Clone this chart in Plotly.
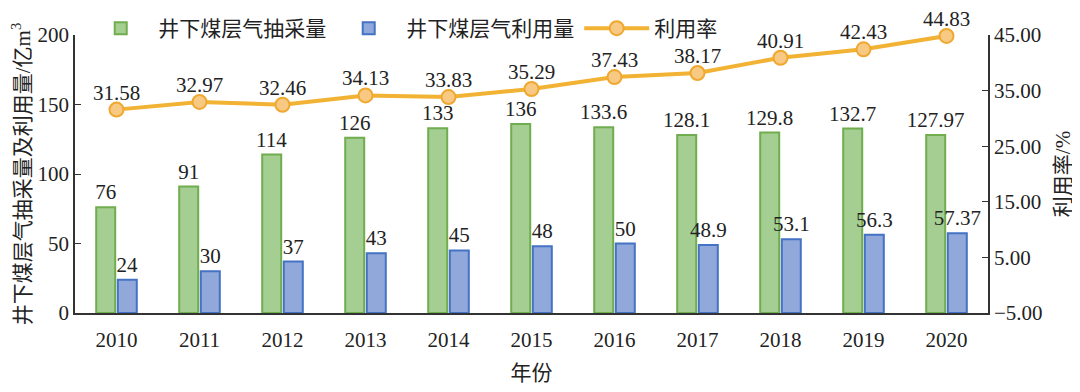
import plotly.graph_objects as go
from plotly.subplots import make_subplots

years = ["2010", "2011", "2012", "2013", "2014", "2015", "2016", "2017", "2018", "2019", "2020"]
extraction = [76, 91, 114, 126, 133, 136, 133.6, 128.1, 129.8, 132.7, 127.97]
utilization = [24, 30, 37, 43, 45, 48, 50, 48.9, 53.1, 56.3, 57.37]
rate = [31.58, 32.97, 32.46, 34.13, 33.83, 35.29, 37.43, 38.17, 40.91, 42.43, 44.83]

rate_labels = [f"{v:.2f}" for v in rate]
ext_labels = ["76", "91", "114", "126", "133", "136", "133.6", "128.1", "129.8", "132.7", "127.97"]
use_labels = ["24", "30", "37", "43", "45", "48", "50", "48.9", "53.1", "56.3", "57.37"]

FONT = "Liberation Serif, Times New Roman, Noto Sans CJK SC"
FS = 21
fig = make_subplots(specs=[[{"secondary_y": True}]])

fig.add_trace(go.Bar(
    x=years, y=extraction, name="井下煤层气抽采量",
    marker=dict(color="#A5CE93", line=dict(color="#6FAD4E", width=2)),
    text=ext_labels, textposition="outside", cliponaxis=False, constraintext="none",
    textfont=dict(size=FS, color="#222"),
), secondary_y=False)

fig.add_trace(go.Bar(
    x=years, y=utilization, name="井下煤层气利用量",
    marker=dict(color="#90A8DA", line=dict(color="#4472C4", width=2)),
    text=use_labels, textposition="outside", cliponaxis=False, constraintext="none",
    textfont=dict(size=FS, color="#222"),
), secondary_y=False)

fig.add_trace(go.Scatter(
    x=years, y=rate, name="利用率", mode="lines+markers",
    line=dict(color="#F2B233", width=4),
    marker=dict(size=14, color="#F8C983", line=dict(color="#EFA830", width=2)),
    cliponaxis=False,
), secondary_y=True)

# line value labels, placed at each category index on the rate axis
for i, (v, lab) in enumerate(zip(rate, rate_labels)):
    fig.add_annotation(x=i, y=v, xref="x", yref="y2", text=lab, showarrow=False,
                       yshift=17, font=dict(size=FS, color="#222"))

fig.update_layout(
    width=1080, height=392,
    margin=dict(l=67, r=100, t=27, b=87, autoexpand=False),
    paper_bgcolor="white", plot_bgcolor="white",
    font=dict(family=FONT, size=FS, color="#222"),
    barmode="group", bargap=0.48, bargroupgap=0.12,
    showlegend=True,
    legend=dict(orientation="h", x=0.009, y=1.097, xanchor="left", yanchor="top",
                font=dict(size=FS), bgcolor="rgba(0,0,0,0)", traceorder="normal",
                itemwidth=65),
)

fig.update_xaxes(
    type="category", domain=[0, 1], range=[-0.5, len(years) - 0.5],
    showline=True, linecolor="#333", linewidth=1.5, ticks="", automargin=False,
    ticklabelstandoff=7,
    tickfont=dict(size=FS), title=dict(text="年份", font=dict(size=FS), standoff=14),
)
fig.update_yaxes(
    range=[0, 200], dtick=50, showgrid=False, zeroline=False, automargin=False,
    showline=True, linecolor="#333", linewidth=1.5, ticks="inside", ticklen=6, tickcolor="#333",
    tickfont=dict(size=FS),
    title=dict(text="井下煤层气抽采量及利用量/亿m<sup>3</sup>", font=dict(size=FS), standoff=6),
    secondary_y=False,
)
fig.update_yaxes(
    range=[-5, 45], dtick=10, tick0=-5, showgrid=False, zeroline=False, tickformat=".2f",
    automargin=False,
    showline=True, linecolor="#333", linewidth=1.5, ticks="inside", ticklen=6, tickcolor="#333",
    tickfont=dict(size=FS),
    title=dict(text="利用率/%", font=dict(size=FS), standoff=14),
    secondary_y=True,
)

fig.write_html("out.html")
